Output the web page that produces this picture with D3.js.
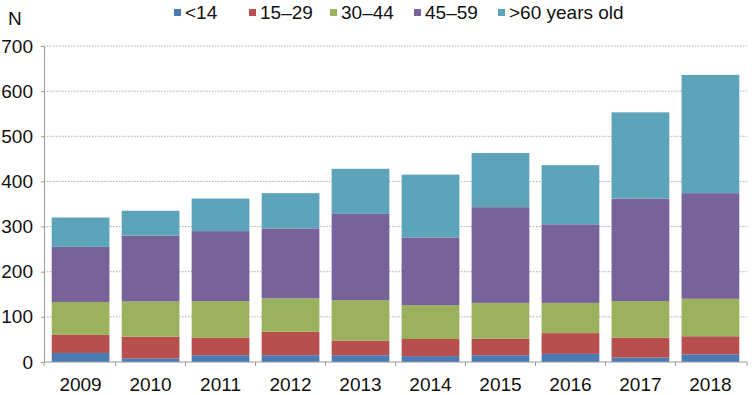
<!DOCTYPE html>
<html>
<head>
<meta charset="utf-8">
<script src="https://cdn.jsdelivr.net/npm/d3@7"></script>
<style>
  body { margin: 0; background: #fff; }
  svg { display: block; font-family: "Liberation Sans", Arial, sans-serif; }
</style>
</head>
<body>
<svg id="chart" width="752" height="395"></svg>
<script>
const years = ["2009", "2010", "2011", "2012", "2013", "2014", "2015", "2016", "2017", "2018"];
const groups = ["<14", "15\u201329", "30\u201344", "45\u201359", ">60 years old"];
const under14 = [20, 8, 15, 15, 15, 13, 15, 18, 10, 17];
const age15to29 = [40, 48, 39, 52, 32, 38, 37, 46, 44, 40];
const age30to44 = [73, 78, 81, 74, 90, 75, 79, 67, 81, 83];
const age45to59 = [122, 146, 155, 155, 191, 150, 212, 174, 227, 234];
const over60 = [65, 55, 72, 78, 100, 139, 120, 131, 191, 262];
const yTicks = [0, 100, 200, 300, 400, 500, 600, 700];
const colors = ["#4b7bb4", "#b64f4d", "#9bb15e", "#77639a", "#5da4bb"];

const margin = {top: 46, right: 5, bottom: 33, left: 44};
const svg = d3.select("#chart");
const width = 752 - margin.left - margin.right;
const height = 395 - margin.top - margin.bottom;

const rows = years.map((y, i) => {
    const r = {year: y};
    [under14, age15to29, age30to44, age45to59, over60].forEach((s, k) => r[groups[k]] = s[i]);
    return r;
});
const stacked = d3.stack().keys(groups)(rows);

const x = d3.scaleBand().domain(years).range([0, width]).paddingInner(0.175).paddingOuter(0.11);
const y = d3.scaleLinear().domain([0, 700]).range([height, 0]);

const plot = svg.append("g").attr("transform", `translate(${margin.left},${margin.top})`);

// dotted gridlines
plot.append("g").selectAll("line")
    .data(yTicks.slice(1))
    .join("line")
    .attr("x1", 0).attr("x2", width)
    .attr("y1", d => y(d)).attr("y2", d => y(d))
    .attr("stroke", "#aaa").attr("stroke-width", 1)
    .attr("stroke-dasharray", "1.5,1.5");

// bars
plot.append("g").selectAll("g")
    .data(stacked)
    .join("g")
    .attr("fill", (d, i) => colors[i])
    .selectAll("rect")
    .data(d => d)
    .join("rect")
    .attr("x", d => x(d.data.year))
    .attr("width", x.bandwidth())
    .attr("y", d => y(d[1]))
    .attr("height", d => y(d[0]) - y(d[1]));

// y axis
const yAxis = plot.append("g")
    .call(d3.axisLeft(y).tickValues(yTicks).tickSize(3).tickPadding(8));
yAxis.select(".domain").attr("stroke", "#999");
yAxis.selectAll(".tick line").attr("stroke", "#999");
yAxis.selectAll("text").attr("font-size", 19).attr("fill", "#111");

// x axis: line plus ticks at category boundaries
const xAxis = plot.append("g").attr("transform", `translate(0,${height})`);
xAxis.append("line").attr("x1", 0).attr("x2", width).attr("stroke", "#999");
const step = x.step();
const edges = years.map(yr => x(yr) - x.paddingInner() * step / 2).concat([width]);
edges[0] = 0;
xAxis.selectAll(".xt").data(edges).join("line")
    .attr("class", "xt")
    .attr("x1", d => d).attr("x2", d => d)
    .attr("y1", 0).attr("y2", 4)
    .attr("stroke", "#999");
xAxis.selectAll("text").data(years).join("text")
    .attr("x", d => x(d) + x.bandwidth() / 2)
    .attr("y", 29)
    .attr("text-anchor", "middle")
    .attr("font-size", 19)
    .attr("fill", "#111")
    .text(d => d);

// N label
svg.append("text").attr("x", 8).attr("y", 25)
    .attr("font-size", 19).attr("fill", "#111").text("N");

// legend
const legendX = [174, 249, 330, 414, 498];
const legend = svg.append("g");
groups.forEach((g, i) => {
    legend.append("rect")
        .attr("x", legendX[i]).attr("y", 9)
        .attr("width", 7).attr("height", 7)
        .attr("fill", colors[i]);
    legend.append("text")
        .attr("x", legendX[i] + 11).attr("y", 19)
        .attr("font-size", 19).attr("fill", "#111")
        .text(g);
});
</script>
</body>
</html>
